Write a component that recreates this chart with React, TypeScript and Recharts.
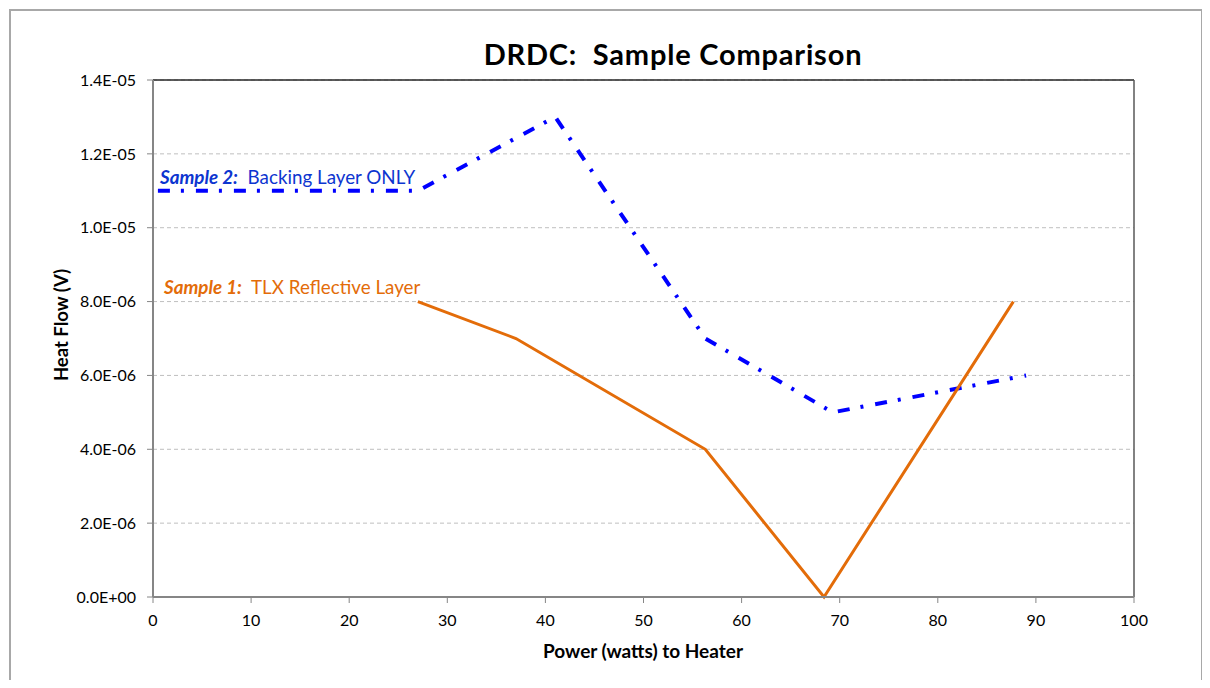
import React from "react";
import { LineChart, Line, XAxis, YAxis, CartesianGrid, ReferenceLine } from "recharts";

const sample1X = [27, 37, 56.3, 68.4, 87.7];
const sample1Y = [8e-6, 7e-6, 4e-6, 0, 8e-6];
const sample2X = [0.5, 27, 41, 56.3, 69.3, 89];
const sample2Y = [1.1e-5, 1.1e-5, 1.3e-5, 7e-6, 5e-6, 6e-6];
const xTicks = [0, 10, 20, 30, 40, 50, 60, 70, 80, 90, 100];
const yTicks = [0, 2e-6, 4e-6, 6e-6, 8e-6, 1e-5, 1.2e-5, 1.4e-5];

const sample1 = sample1X.map((x, i) => ({ x, y: sample1Y[i] }));
const sample2 = sample2X.map((x, i) => ({ x, y: sample2Y[i] }));

const fmt = (v: number) => {
  const [m, e] = v.toExponential(1).split("e");
  const n = parseInt(e, 10);
  return `${m}E${n < 0 ? "-" : "+"}${String(Math.abs(n)).padStart(2, "0")}`;
};

const FONT = "Lato, 'Open Sans', sans-serif";

export default function App() {
  return (
    <div style={{ position: "relative", width: 1210, height: 688, margin: -8, fontFamily: FONT, overflow: "hidden", background: "#fff" }}>
      <div style={{ position: "absolute", left: 9, top: 9, width: 1190, height: 690, border: "2px solid #A8A8A8" }} />
      <LineChart width={1210} height={688} margin={{ top: 80, right: 76, bottom: 51, left: 70 }}>
        <CartesianGrid horizontal vertical={false} stroke="#BFBFBF" strokeDasharray="4 3" />
        <XAxis
          type="number"
          dataKey="x"
          domain={[0, 100]}
          ticks={xTicks}
          allowDuplicatedCategory={false}
          height={40}
          axisLine={{ stroke: "#868686", strokeWidth: 2 }}
          tickLine={{ stroke: "#868686" }}
          tickSize={6}
          tickMargin={12}
          tick={{ fill: "#000", fontSize: 16, fontFamily: FONT }}
        />
        <YAxis
          type="number"
          dataKey="y"
          domain={[0, 1.4e-5]}
          ticks={yTicks}
          tickFormatter={fmt}
          width={83}
          axisLine={{ stroke: "#868686", strokeWidth: 2 }}
          tickLine={{ stroke: "#868686" }}
          tickSize={6}
          tickMargin={11}
          tick={{ fill: "#000", fontSize: 16, fontFamily: FONT }}
        />
        <ReferenceLine y={1.4e-5} stroke="#262626" strokeWidth={1.5} ifOverflow="extendDomain" />
        <ReferenceLine x={100} stroke="#595959" strokeWidth={1.5} ifOverflow="extendDomain" />
        <Line
          data={sample2}
          dataKey="y"
          type="linear"
          stroke="#0000FF"
          strokeWidth={4}
          strokeDasharray="12 11 3 12"
          dot={false}
          activeDot={false}
          isAnimationActive={false}
        />
        <Line
          data={sample1}
          dataKey="y"
          type="linear"
          stroke="#E36C09"
          strokeWidth={3}
          dot={false}
          activeDot={false}
          isAnimationActive={false}
        />
      </LineChart>
      <div style={{ position: "absolute", left: 373, width: 600, top: 35, textAlign: "center", fontWeight: 700, fontSize: 29, letterSpacing: 0.8, lineHeight: "38px" }}>
        DRDC:&nbsp; Sample Comparison
      </div>
      <div style={{ position: "absolute", left: 443, width: 400, top: 638, textAlign: "center", fontWeight: 700, fontSize: 19, lineHeight: "26px" }}>
        Power (watts) to Heater
      </div>
      <div style={{ position: "absolute", left: 61 - 100, width: 200, top: 325 - 13, textAlign: "center", fontWeight: 700, fontSize: 18.5, lineHeight: "26px", transform: "rotate(-90deg)" }}>
        Heat Flow (V)
      </div>
      <div style={{ position: "absolute", left: 160, top: 164, fontSize: 18.8, lineHeight: "26px", color: "#0D35D0", whiteSpace: "nowrap" }}>
        <span style={{ fontWeight: 700, fontStyle: "italic" }}>Sample 2:</span>&nbsp; Backing Layer ONLY
      </div>
      <div style={{ position: "absolute", left: 164, top: 274, fontSize: 18.8, lineHeight: "26px", color: "#E36C09", whiteSpace: "nowrap" }}>
        <span style={{ fontWeight: 700, fontStyle: "italic" }}>Sample 1:</span>&nbsp; TLX Reflective Layer
      </div>
    </div>
  );
}
